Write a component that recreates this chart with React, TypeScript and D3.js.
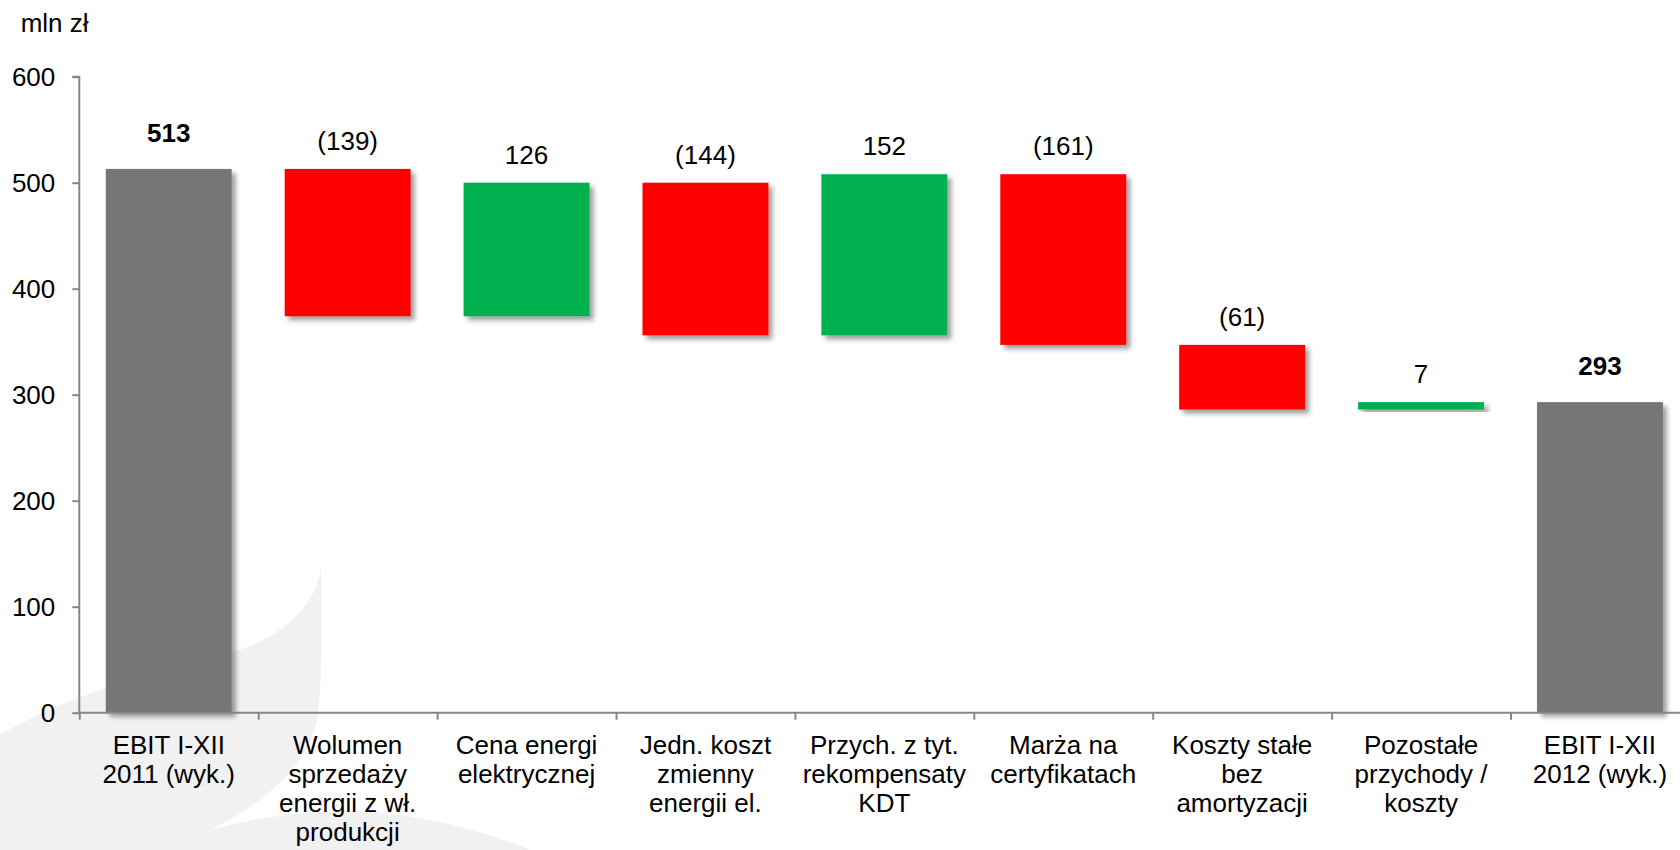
import React, { useEffect, useRef } from "react";
import * as d3 from "d3";

// ---------- data ----------
const categories: string[][] = [
  ["EBIT I-XII", "2011 (wyk.)"],
  ["Wolumen", "sprzedaży", "energii z wł.", "produkcji"],
  ["Cena energi", "elektrycznej"],
  ["Jedn. koszt", "zmienny", "energii el."],
  ["Przych. z tyt.", "rekompensaty", "KDT"],
  ["Marża na", "certyfikatach"],
  ["Koszty stałe", "bez", "amortyzacji"],
  ["Pozostałe", "przychody /", "koszty"],
  ["EBIT I-XII", "2012 (wyk.)"],
];
const values: number[] = [513, -139, 126, -144, 152, -161, -61, 7, 293];
const kinds: string[] = ["total", "delta", "delta", "delta", "delta", "delta", "delta", "delta", "total"];
const yTicks: number[] = [0, 100, 200, 300, 400, 500, 600];
const unitLabel = "mln zł";

// ---------- layout ----------
const W = 1680;
const H = 850;
const X0 = 79.3;
const X1 = 1689.4;
const Y0 = 712.7;
const Y1 = 76.7;
const FONT = "'Liberation Sans', Arial, Helvetica, sans-serif";
const COLORS: Record<string, string> = { total: "#767676", up: "#00B050", down: "#FF0000" };
const AXIS = "#868686";

export default function App() {
  const yAxisRef = useRef<SVGGElement>(null);
  const xAxisRef = useRef<SVGGElement>(null);

  const x = d3
    .scaleBand<number>()
    .domain(values.map((_, i) => i))
    .range([X0, X1])
    .paddingInner(0.296)
    .paddingOuter(0.148);
  const y = d3.scaleLinear().domain([0, 600]).range([Y0, Y1]);
  const xEdge = d3.scaleLinear().domain([0, values.length]).range([X0, X1]);

  // waterfall computation
  let running = 0;
  const bars = values.map((v, i) => {
    let lo: number, hi: number, color: string;
    if (kinds[i] === "total") {
      lo = 0;
      hi = v;
      running = v;
      color = COLORS.total;
    } else {
      const start = running;
      running = start + v;
      lo = Math.min(start, running);
      hi = Math.max(start, running);
      color = v >= 0 ? COLORS.up : COLORS.down;
    }
    return { i, v, lo, hi, color, kind: kinds[i] };
  });

  useEffect(() => {
    if (yAxisRef.current) {
      const g = d3.select(yAxisRef.current);
      g.selectAll("*").remove();
      g.call(d3.axisLeft(y).tickValues(yTicks).tickSize(7).tickPadding(17).tickFormat(d3.format("d")));
      g.select(".domain").attr("stroke", AXIS).attr("stroke-width", 2).attr("d", `M-7,${Y1}H0V${Y0}`);
      g.selectAll(".tick line").attr("stroke", AXIS).attr("stroke-width", 2);
      g.selectAll(".tick text")
        .attr("fill", "#000")
        .style("font-family", FONT)
        .style("font-size", "26px");
    }
    if (xAxisRef.current) {
      const g = d3.select(xAxisRef.current);
      g.selectAll("*").remove();
      const edges = d3.range(0, values.length);
      g.call(
        d3
          .axisBottom(xEdge)
          .tickValues(edges)
          .tickSize(7)
          .tickFormat(() => "")
      );
      g.select(".domain").attr("stroke", AXIS).attr("stroke-width", 2).attr("d", `M${X0},0H${X1}`);
      g.selectAll(".tick line").attr("stroke", AXIS).attr("stroke-width", 2);
    }
  });

  return (
    <svg
      width={W}
      height={H}
      style={{ position: "absolute", left: 0, top: 0, background: "#fff" }}
      fontFamily={FONT}
    >
      <defs>
        <filter id="shadow" x="-10%" y="-10%" width="130%" height="130%">
          <feDropShadow dx="4" dy="4" stdDeviation="2.5" floodColor="#000" floodOpacity="0.38" />
        </filter>
      </defs>
      <rect x={0} y={0} width={W} height={H} fill="#fff" />

      {/* watermark */}
      <g fill="#f1f1f1">
        <path d="M321,566 C322,620 322,680 318,715 C308,775 250,815 168,850 L0,850 L0,735 C60,700 150,670 232,652 C290,635 318,600 321,566 Z" />
        <path d="M150,850 C220,822 300,808 370,812 C430,816 480,830 530,850 Z" />
      </g>

      <text x={20.7} y={32} fontSize={26} fill="#000">
        {unitLabel}
      </text>

      {/* bars */}
      {bars.map((b) => (
        <rect
          key={b.i}
          x={x(b.i)}
          y={y(b.hi)}
          width={x.bandwidth()}
          height={Math.max(0, y(b.lo) - y(b.hi))}
          fill={b.color}
          filter="url(#shadow)"
        />
      ))}

      <g ref={yAxisRef} transform={`translate(${X0},0)`} />
      <g ref={xAxisRef} transform={`translate(0,${Y0})`} />

      {/* value labels */}
      {bars.map((b) => (
        <text
          key={`v${b.i}`}
          x={(x(b.i) as number) + x.bandwidth() / 2}
          y={y(b.hi) - (b.kind === "total" ? 27 : 19)}
          textAnchor="middle"
          fontSize={26}
          fontWeight={b.kind === "total" ? "bold" : "normal"}
          fill="#000"
        >
          {b.v < 0 ? `(${Math.abs(b.v)})` : `${b.v}`}
        </text>
      ))}

      {/* category labels */}
      {categories.map((lines, i) => (
        <text
          key={`c${i}`}
          x={(x(i) as number) + x.bandwidth() / 2}
          y={Y0 + 41}
          textAnchor="middle"
          fontSize={26}
          fill="#000"
        >
          {lines.map((l, j) => (
            <tspan key={j} x={(x(i) as number) + x.bandwidth() / 2} dy={j === 0 ? 0 : 29}>
              {l}
            </tspan>
          ))}
        </text>
      ))}
    </svg>
  );
}
